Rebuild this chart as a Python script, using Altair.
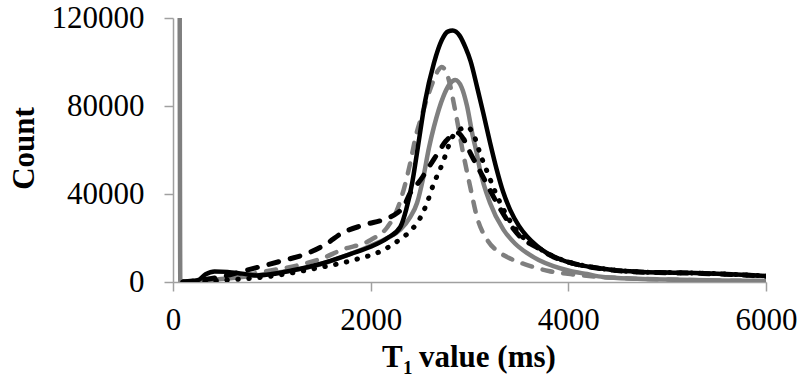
import altair as alt
import pandas as pd

# T1 histograms (counts per T1 bin, ms)
solid_black_t1 = [100, 250, 330, 420, 550, 700, 850, 1000, 1200, 1500, 1800, 2000, 2170, 2300,
                  2360, 2420, 2480, 2550, 2640, 2720, 2780, 2830, 2900, 2960, 3010, 3080, 3140,
                  3210, 3276, 3340, 3410, 3500, 3580, 3680, 3782, 3900, 4018, 4220, 4450, 4700,
                  5000, 5360, 5700, 6000]
solid_black_n = [0, 800, 3500, 4800, 4600, 3800, 3000, 3600, 5200, 8300, 12800, 16000, 20000, 25000,
                 33000, 45000, 62000, 82000, 99500, 110000, 113800, 114300, 112000, 106500, 100500,
                 88000, 76700, 63000, 51000, 41000, 32900, 25500, 20800, 16500, 13200, 10700, 8700,
                 6900, 5500, 4700, 4300, 4000, 3400, 2700]

solid_gray_t1 = [68, 74, 200, 400, 650, 900, 1160, 1400, 1565, 1830, 2000, 2170, 2300, 2400, 2470,
                 2530, 2590, 2640, 2735, 2800, 2855, 2920, 2975, 3030, 3073, 3106, 3208, 3343,
                 3460, 3580, 3700, 3849, 4020, 4190, 4350, 4700, 5000, 5500, 6000]
solid_gray_n = [120000, 0, 300, 1000, 2000, 3300, 5000, 7000, 9100, 13400, 16500, 20000, 23800,
                29500, 36000, 47000, 61000, 70500, 84300, 90000, 91800, 88500, 80000, 67000, 58600,
                51000, 35900, 23800, 17500, 13200, 10000, 7200, 5000, 3600, 2300, 1500, 1100, 700, 400]

dashed_gray_t1 = [100, 500, 960, 1320, 1525, 1700, 2000, 2170, 2260, 2333, 2400, 2455, 2520, 2575,
                  2630, 2680, 2720, 2780, 2855, 2935, 3006, 3076, 3180, 3313, 3444, 3585, 3800,
                  4020, 4350, 4700, 5200, 6000]
dashed_gray_n = [0, 1500, 5000, 8200, 11000, 14500, 19100, 25000, 32000, 41800, 54000, 66000, 76000,
                 84000, 91000, 96000, 97700, 93500, 78000, 58700, 43500, 29500, 19100, 13200, 10000,
                 7700, 5000, 3600, 2200, 1500, 900, 400]

dashed_black_t1 = [100, 300, 500, 757, 1060, 1390, 1565, 1700, 1930, 2170, 2270, 2330, 2400, 2505,
                   2600, 2700, 2760, 2820, 2880, 2940, 3010, 3080, 3170, 3260, 3380, 3515, 3690,
                   3850, 4020, 4220, 4450, 4700, 5000, 5360, 5700, 6000]
dashed_black_n = [0, 1000, 2500, 5500, 9100, 13600, 17700, 22000, 25900, 29000, 31400, 34000, 40400,
                  46400, 53000, 60000, 64000, 66500, 67800, 65000, 58500, 52500, 45000, 37300, 28200,
                  20500, 15500, 11400, 8800, 6800, 5400, 4600, 4200, 3900, 3300, 2600]

dotted_black_t1 = [100, 500, 1000, 1465, 1830, 2130, 2300, 2420, 2500, 2570, 2640, 2700, 2760, 2808,
                   2880, 2980, 3050, 3110, 3180, 3260, 3380, 3515, 3690, 3850, 4020, 4220, 4450,
                   4700, 5000, 5360, 5700, 6000]
dotted_black_n = [0, 800, 2700, 6400, 10000, 14600, 19500, 24000, 29000, 35900, 45000, 51000, 58000,
                  64300, 68500, 70400, 66000, 58000, 50000, 41000, 30000, 21500, 15800, 11600, 8900,
                  6900, 5500, 4600, 4300, 4000, 3400, 2700]

x_ticks = [0, 2000, 4000, 6000]
y_ticks = [0, 40000, 80000, 120000]

FONT = "Liberation Serif"
AXIS_GRAY = "#a0a0a0"
GRAY = "#7f7f7f"

x_scale = alt.Scale(domain=[0, 6000], nice=False, zero=False)
y_scale = alt.Scale(domain=[0, 120000], nice=False)


def series(t1, n, **style):
    df = pd.DataFrame({"t1": t1, "n": n, "i": range(len(t1))})
    return alt.Chart(df).mark_line(clip=True, interpolate="monotone", **style).encode(
        x=alt.X("t1:Q", scale=x_scale,
                axis=alt.Axis(values=x_ticks, title=None, format="d")),
        y=alt.Y("n:Q", scale=y_scale,
                axis=alt.Axis(values=y_ticks, title="Count", format="d",
                              titleX=-140, titleY=130, titleBaseline="alphabetic",
                              titleAngle=270)),
        order="i:Q",
    )


lines = [
    series(dashed_gray_t1, dashed_gray_n, color=GRAY, strokeWidth=4.5,
           strokeDash=[10, 11], strokeCap="round"),
    series(solid_gray_t1, solid_gray_n, color=GRAY, strokeWidth=4.5),
    series(dotted_black_t1, dotted_black_n, color="black", strokeWidth=5,
           strokeDash=[0.5, 10.5], strokeCap="round"),
    series(dashed_black_t1, dashed_black_n, color="black", strokeWidth=5,
           strokeDash=[10, 12], strokeCap="round"),
    series(solid_black_t1, solid_black_n, color="black", strokeWidth=4.5),
]

# x-axis title with a subscripted "1"
title_parts = ["T", "1", "value (ms)"]


def title_piece(text, x, y, size):
    return alt.Chart(pd.DataFrame({"s": [text]})).mark_text(
        align="left", baseline="alphabetic", font=FONT, fontWeight="bold",
        fontSize=size, color="black",
    ).encode(x=alt.value(x), y=alt.value(y), text="s:N")


titles = [
    title_piece(title_parts[0], 209, 349, 31),
    title_piece(title_parts[1], 230, 356, 19),
    title_piece(title_parts[2], 246, 349, 31),
]

chart = alt.layer(*lines, *titles).properties(
    width=593,
    height=264,
    autosize=alt.AutoSizeParams(type="none"),
    padding={"left": 173, "top": 18, "right": 35, "bottom": 97},
).configure_view(
    stroke=None,
).configure_axis(
    labelFont=FONT,
    labelFontSize=31,
    labelColor="black",
    titleFont=FONT,
    titleFontSize=31,
    titleFontWeight="bold",
    titleColor="black",
    domainColor=AXIS_GRAY,
    domainWidth=1.5,
    tickColor=AXIS_GRAY,
    tickWidth=1.5,
    tickSize=9,
    grid=False,
    labelOverlap=False,
    labelFlush=False,
).configure_axisX(
    labelPadding=14,
).configure_axisY(
    labelPadding=20,
)

chart.save("out.html", embed_options={"renderer": "svg", "actions": False})
